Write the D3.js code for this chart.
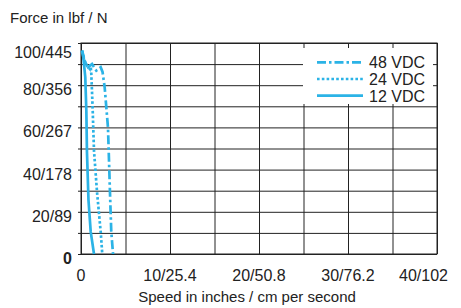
<!DOCTYPE html>
<html>
<head>
<meta charset="utf-8">
<script src="https://cdn.jsdelivr.net/npm/d3@7"></script>
<style>
	body { margin: 0; background: #fff; }
	svg text { font-family: "Liberation Sans", Arial, sans-serif; fill: #222; }
</style>
</head>
<body>
<svg id="graphic" width="461" height="308"></svg>
<script>
// speed (in/s), force (lbf)
const vdc48 = [[0.11, 96.4], [0.34, 92], [0.79, 88.5], [1.24, 90], [1.72, 86.9], [2.21, 88.5], [2.42, 86.3], [2.66, 79], [3.03, 60], [3.11, 49.3], [3.25, 30], [3.40, 10.6], [3.60, 0]];
const vdc24 = [[0.11, 96.4], [0.42, 91.6], [0.67, 89.1], [0.98, 87.7], [1.07, 90], [1.16, 85.3], [1.30, 70], [1.46, 49], [1.80, 29.4], [2.21, 10.6], [2.39, 0]];
const vdc12 = [[0.11, 96.4], [0.22, 94.8], [0.48, 83.9], [0.60, 67.9], [0.67, 48.3], [0.84, 25.6], [1.09, 10.6], [1.46, 0]];

const seriesNames = ['48 VDC', '24 VDC', '12 VDC'];
const seriesData = [vdc48, vdc24, vdc12];
const seriesDash = ['9,3,2.5,3', '2.6,2.2', null];

const xTicks = [0, 10, 20, 30, 40];
const xTickLabels = ['0', '10/25.4', '20/50.8', '30/76.2', '40/102'];
const yTicks = [0, 20, 40, 60, 80, 100];
const yTickLabels = ['0', '20/89', '40/178', '60/267', '80/356', '100/445'];

const colour = '#2bb3e6';
const margin = { top: 43, left: 81 };
const chartWidth = 356;
const height = 211;

const svg = d3.select('#graphic');
const chart = svg.append('g').attr('transform', 'translate(' + margin.left + ',' + margin.top + ')');

const x = d3.scaleLinear().domain([0, 40]).range([0, chartWidth]);
const y = d3.scaleLinear().domain([0, 100]).range([height, 0]);

// grid lines
chart.append('g')
	.attr('transform', 'translate(0,' + height + ')')
	.call(d3.axisBottom(x).tickValues(d3.range(0, 41, 5)).tickSize(-height).tickFormat(''))
	.call(g => g.select('.domain').remove())
	.selectAll('line').attr('stroke', '#222');

chart.append('g')
	.call(d3.axisLeft(y).tickValues(d3.range(0, 101, 10)).tickSize(-chartWidth).tickFormat(''))
	.call(g => g.select('.domain').remove())
	.selectAll('line').attr('stroke', '#222');

// little ticks outside the left axis
chart.append('g')
	.call(d3.axisLeft(y).tickValues(d3.range(0, 101, 10)).tickSize(3).tickFormat(''))
	.call(g => g.select('.domain').remove())
	.selectAll('line').attr('stroke', '#222');

chart.append('rect')
	.attr('width', chartWidth)
	.attr('height', height)
	.attr('fill', 'none')
	.attr('stroke', '#222');

// tick labels
chart.append('g')
	.selectAll('text')
	.data(xTicks)
	.join('text')
	.attr('x', (d, i) => i == xTicks.length - 1 ? x(d) + 11 : x(d))
	.attr('y', height + 27)
	.attr('text-anchor', (d, i) => i == xTicks.length - 1 ? 'end' : 'middle')
	.attr('font-size', 16)
	.text((d, i) => xTickLabels[i]);

chart.append('g')
	.selectAll('text')
	.data(yTicks)
	.join('text')
	.attr('x', -9)
	.attr('y', d => y(d) + (d == 100 ? 15 : 10))
	.attr('text-anchor', 'end')
	.attr('font-size', 16)
	.attr('font-weight', d => d == 0 ? 'bold' : null)
	.text((d, i) => yTickLabels[i]);

// axis titles
svg.append('text')
	.attr('x', 10)
	.attr('y', 23)
	.attr('font-size', 15)
	.text('Force in lbf / N');

svg.append('text')
	.attr('x', 247)
	.attr('y', 302)
	.attr('text-anchor', 'middle')
	.attr('font-size', 15)
	.text('Speed in inches / cm per second');

// curves
const line = d3.line().x(d => x(d[0])).y(d => y(d[1]));

chart.append('g')
	.selectAll('path')
	.data(seriesData)
	.join('path')
	.attr('d', line)
	.attr('fill', 'none')
	.attr('stroke', colour)
	.attr('stroke-width', 2.7)
	.attr('stroke-dasharray', (d, i) => seriesDash[i]);

// legend
const legend = svg.append('g').attr('transform', 'translate(303,48)');

legend.append('rect')
	.attr('width', 130)
	.attr('height', 56)
	.attr('fill', '#fff');

const legendItem = legend.selectAll('g.item')
	.data(seriesNames)
	.join('g')
	.attr('class', 'item')
	.attr('transform', (d, i) => 'translate(0,' + (14.3 + i * 16.7) + ')');

legendItem.append('line')
	.attr('x1', 14)
	.attr('x2', 60)
	.attr('stroke', colour)
	.attr('stroke-width', 2.7)
	.attr('stroke-dasharray', (d, i) => seriesDash[i]);

legendItem.append('text')
	.attr('x', 66)
	.attr('y', 6)
	.attr('font-size', 16)
	.text(d => d);
</script>
</body>
</html>
